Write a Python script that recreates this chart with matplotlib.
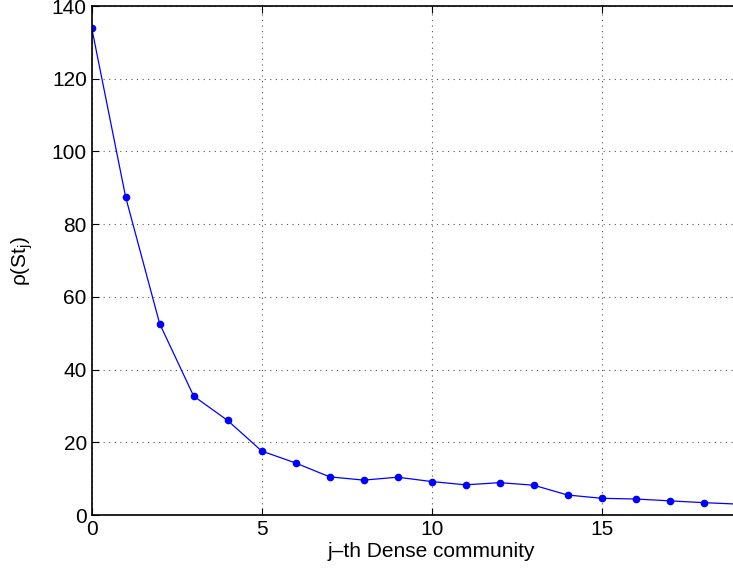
import matplotlib
from matplotlib import pyplot as plt

matplotlib.use("Agg")

plt.rcParams["font.family"] = ["Liberation Sans", "DejaVu Sans"]
plt.rcParams["mathtext.fontset"] = "custom"
plt.rcParams["mathtext.rm"] = "Liberation Sans"
plt.rcParams["mathtext.default"] = "regular"

community = list(range(20))
density = [134.0, 87.4, 52.6, 32.7, 26.0, 17.6, 14.3, 10.5, 9.6, 10.4,
           9.2, 8.3, 8.9, 8.2, 5.5, 4.6, 4.4, 3.9, 3.4, 3.0]
x_ticks = [0, 5, 10, 15]
y_ticks = [0, 20, 40, 60, 80, 100, 120, 140]

fig = plt.figure(figsize=(7.33, 5.73), dpi=100)
ax = fig.add_axes([0.1251, 0.1012, 0.9276, 0.8883])

ax.plot(community, density, color="blue", linewidth=0.9,
        marker=".", markersize=9)

ax.set_xlim(0, 20)
ax.set_ylim(0, 140)
ax.set_xticks(x_ticks)
ax.set_yticks(y_ticks)
ax.tick_params(direction="in", top=True, right=True, labelsize=15,
               length=5, width=0.8)
ax.grid(True, linestyle=(0, (1, 4)), color="#555555", linewidth=0.8)
for s in ax.spines.values():
    s.set_linewidth(1.2)

ax.set_xlabel("j\u2013th Dense community", fontsize=15, labelpad=2)
ax.set_ylabel("ρ(St$_j$)", fontsize=15, labelpad=12)

fig.savefig("out.png", dpi=100)
